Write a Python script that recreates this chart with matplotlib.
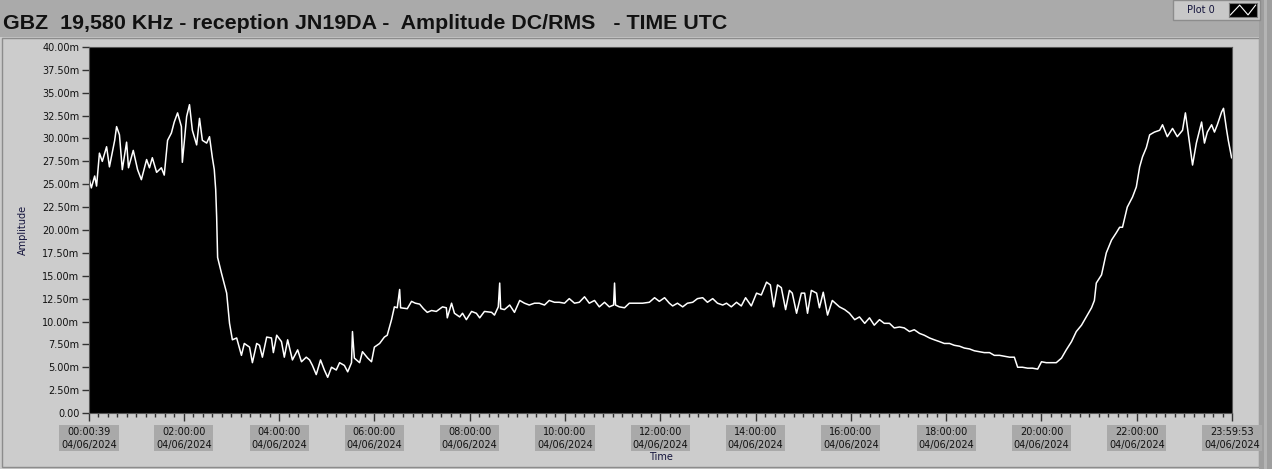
import matplotlib
matplotlib.use("Agg")
import matplotlib.pyplot as plt
from matplotlib.patches import Rectangle
from matplotlib.ticker import MultipleLocator
from matplotlib import font_manager

# ---- data (time in hours UTC, amplitude in mV) ----
hours = [
    0.01, 0.06, 0.13, 0.17, 0.23, 0.29, 0.38, 0.44, 0.50, 0.55, 0.59, 0.65, 0.71, 0.80, 0.84,
    0.94, 1.03, 1.11, 1.22, 1.28, 1.34, 1.43, 1.53, 1.59, 1.66, 1.74, 1.80, 1.87, 1.95, 1.97,
    2.06, 2.12, 2.18, 2.27, 2.33, 2.39, 2.48, 2.54, 2.60, 2.64, 2.67, 2.69, 2.71, 2.79, 2.90,
    2.96, 3.02, 3.11, 3.21, 3.27, 3.38, 3.44, 3.53, 3.59, 3.65, 3.74, 3.84, 3.88, 3.95, 4.05,
    4.11, 4.18, 4.28, 4.39, 4.47, 4.57, 4.64, 4.70, 4.78, 4.87, 4.95, 5.02, 5.10, 5.20, 5.27,
    5.37, 5.44, 5.52, 5.54, 5.58, 5.69, 5.75, 5.86, 5.94, 6.00, 6.11, 6.21, 6.27, 6.36, 6.42,
    6.48, 6.53, 6.55, 6.69, 6.78, 6.86, 6.95, 7.03, 7.11, 7.20, 7.30, 7.43, 7.51, 7.53, 7.62,
    7.68, 7.79, 7.85, 7.93, 8.04, 8.14, 8.21, 8.31, 8.46, 8.52, 8.60, 8.63, 8.65, 8.73, 8.84,
    8.94, 9.05, 9.15, 9.25, 9.36, 9.46, 9.57, 9.67, 9.78, 9.88, 9.99, 10.09, 10.20, 10.30, 10.41,
    10.51, 10.62, 10.72, 10.83, 10.93, 11.02, 11.04, 11.06, 11.14, 11.25, 11.35, 11.50, 11.63, 11.77, 11.88,
    11.98, 12.09, 12.19, 12.26, 12.36, 12.47, 12.57, 12.68, 12.78, 12.89, 12.99, 13.10, 13.20, 13.31, 13.39,
    13.49, 13.60, 13.70, 13.79, 13.91, 14.02, 14.12, 14.23, 14.31, 14.38, 14.46, 14.54, 14.63, 14.71, 14.77,
    14.86, 14.96, 15.03, 15.09, 15.17, 15.28, 15.34, 15.42, 15.51, 15.61, 15.76, 15.87, 15.97, 16.08, 16.18,
    16.29, 16.39, 16.49, 16.60, 16.70, 16.81, 16.91, 17.02, 17.12, 17.23, 17.33, 17.44, 17.54, 17.65, 17.75,
    17.86, 17.96, 18.07, 18.17, 18.28, 18.38, 18.49, 18.59, 18.70, 18.80, 18.91, 19.01, 19.12, 19.22, 19.33,
    19.43, 19.50, 19.60, 19.71, 19.81, 19.92, 20.00, 20.10, 20.21, 20.31, 20.42, 20.52, 20.63, 20.73, 20.84,
    20.94, 21.05, 21.11, 21.15, 21.26, 21.36, 21.47, 21.57, 21.64, 21.70, 21.80, 21.91, 21.99, 22.06, 22.12,
    22.20, 22.27, 22.37, 22.48, 22.54, 22.64, 22.75, 22.85, 22.96, 23.02, 23.06, 23.15, 23.17, 23.25, 23.36,
    23.42, 23.48, 23.57, 23.63, 23.69, 23.78, 23.82, 23.88, 23.92, 23.99,
]
amp_mv = [
    25.7, 24.6, 25.9, 24.8, 28.4, 27.5, 29.1, 26.9, 28.5, 29.8, 31.3, 30.4, 26.6, 29.6, 26.8,
    28.7, 26.6, 25.5, 27.7, 26.8, 27.9, 26.3, 26.8, 26.0, 29.8, 30.6, 31.8, 32.8, 31.3, 27.4,
    32.4, 33.7, 30.9, 29.3, 32.2, 29.8, 29.5, 30.2, 27.9, 26.6, 24.4, 21.4, 17.0, 15.3, 13.1,
    9.8, 8.0, 8.2, 6.3, 7.6, 7.2, 5.5, 7.6, 7.4, 6.1, 8.3, 8.2, 6.6, 8.5, 7.8,
    6.1, 8.0, 5.8, 6.9, 5.6, 6.1, 5.8, 5.2, 4.2, 5.8, 4.7, 3.9, 5.0, 4.7, 5.5,
    5.2, 4.5, 5.5, 8.9, 6.0, 5.5, 6.7, 6.0, 5.6, 7.2, 7.6, 8.3, 8.5, 10.2, 11.6,
    11.5, 13.5, 11.5, 11.4, 12.2, 12.0, 11.9, 11.4, 11.0, 11.2, 11.1, 11.6, 11.5, 10.4, 12.0,
    10.9, 10.5, 10.9, 10.2, 11.1, 10.9, 10.4, 11.1, 11.0, 10.7, 11.6, 14.2, 11.4, 11.3, 11.8,
    11.0, 12.3, 12.0, 11.8, 12.0, 12.0, 11.8, 12.3, 12.1, 12.1, 12.0, 12.5, 12.0, 12.1, 12.7,
    12.0, 12.3, 11.6, 12.1, 11.6, 11.8, 14.2, 11.8, 11.6, 11.5, 12.0, 12.0, 12.0, 12.1, 12.6,
    12.2, 12.6, 12.0, 11.7, 12.0, 11.6, 12.0, 12.1, 12.5, 12.6, 12.1, 12.5, 12.0, 11.8, 12.0,
    11.6, 12.1, 11.7, 12.6, 11.7, 13.1, 12.9, 14.3, 14.0, 11.6, 14.0, 13.7, 11.3, 13.4, 13.1,
    10.9, 13.1, 13.1, 10.9, 13.4, 13.1, 11.5, 13.2, 10.7, 12.3, 11.6, 11.3, 10.9, 10.2, 10.5,
    9.8, 10.4, 9.6, 10.2, 9.8, 9.8, 9.3, 9.4, 9.3, 8.9, 9.1, 8.7, 8.5, 8.2, 8.0,
    7.8, 7.6, 7.6, 7.4, 7.3, 7.1, 7.0, 6.8, 6.7, 6.6, 6.6, 6.3, 6.3, 6.2, 6.1,
    6.1, 5.0, 5.0, 4.9, 4.9, 4.8, 5.6, 5.5, 5.5, 5.5, 6.0, 6.9, 7.8, 8.9, 9.6,
    10.5, 11.5, 12.3, 14.2, 15.1, 17.5, 18.9, 19.7, 20.3, 20.3, 22.5, 23.6, 24.7, 26.9, 28.0,
    29.0, 30.4, 30.7, 30.9, 31.5, 30.2, 31.1, 30.2, 30.9, 32.8, 31.3, 28.0, 27.1, 29.5, 31.8,
    29.5, 30.7, 31.5, 30.7, 31.5, 32.9, 33.3, 31.1, 29.8, 27.9,
]

tick_hours = [0.011, 2, 4, 6, 8, 10, 12, 14, 16, 18, 20, 22, 23.998]
tick_times = ["00:00:39", "02:00:00", "04:00:00", "06:00:00", "08:00:00", "10:00:00",
              "12:00:00", "14:00:00", "16:00:00", "18:00:00", "20:00:00", "22:00:00", "23:59:53"]
tick_date = "04/06/2024"
y_ticks = [0, 2.5, 5, 7.5, 10, 12.5, 15, 17.5, 20, 22.5, 25, 27.5, 30, 32.5, 35, 37.5, 40]

TITLE = "GBZ  19,580 KHz - reception JN19DA -  Amplitude DC/RMS   - TIME UTC"

# ---- LabVIEW-ish colours ----
PANEL = "#cccccc"
BAND = "#aaaaaa"
LABEL_BG = "#a9a9a9"
TXT = "#14143c"

# narrower bold face for the title if available
installed = {f.name for f in font_manager.fontManager.ttflist}
title_font = "Liberation Sans Narrow" if "Liberation Sans Narrow" in installed else "Liberation Sans"

W, H = 1272, 469
fig = plt.figure(figsize=(W / 100, H / 100), dpi=100)
fig.patch.set_facecolor(PANEL)


def px_rect(x0, y0, x1, y1, **kw):
    """Rectangle in figure pixel coords (y measured from top)."""
    r = Rectangle((x0 / W, 1 - y1 / H), (x1 - x0) / W, (y1 - y0) / H,
                  transform=fig.transFigure, zorder=0, **kw)
    fig.add_artist(r)
    return r


# background pieces
px_rect(0, 0, W, 37, facecolor=BAND, edgecolor="none")
px_rect(2, 38, 1259, 467, facecolor=PANEL, edgecolor="#8c8c8c", linewidth=1)
px_rect(1259, 0, W, H, facecolor="#9e9e9e", edgecolor="none")
px_rect(1264, 0, 1267, H, facecolor="#b4b4b4", edgecolor="none")

# "Plot 0" legend box top right
px_rect(1173, 0, 1260, 20, facecolor="#c8c8c8", edgecolor="#8c8c8c", linewidth=1)
fig.text(1187 / W, 1 - 10 / H, "Plot 0", fontsize=7, color=TXT, va="center", ha="left")
leg = fig.add_axes([1229 / W, 1 - 17 / H, 28 / W, 14 / H])
leg.set_facecolor("black")
leg.plot([0.05, 0.38, 0.68, 0.95], [0.15, 0.85, 0.15, 0.85], color="white", lw=0.8)
leg.set_xlim(0, 1)
leg.set_ylim(0, 1)
leg.set_xticks([])
leg.set_yticks([])
for s in leg.spines.values():
    s.set_color("#7a7a7a")

# title, scaled so it spans the same width as the original
title = fig.text(3 / W, 1 - 23.5 / H, TITLE, fontsize=15, fontweight="bold",
                 family=[title_font, "DejaVu Sans"], color="#111111", va="center", ha="left")
fig.canvas.draw()
w = title.get_window_extent().width
title.set_fontsize(15 * 724 / w)

# ---- main graph ----
ax = fig.add_axes([89 / W, 1 - 413 / H, 1143 / W, 366 / H])
ax.set_facecolor("black")
ax.plot(hours, amp_mv, color="white", lw=1.1)

ax.set_xlim(tick_hours[0], tick_hours[-1])
ax.set_ylim(0, 40)

ax.set_yticks(y_ticks)
ax.set_yticklabels(["0.00" if v == 0 else f"{v:.2f}m" for v in y_ticks])
ax.set_xticks(tick_hours)
ax.set_xticklabels([f"{t}\n{tick_date}" for t in tick_times], linespacing=1.35)
ax.xaxis.set_minor_locator(MultipleLocator(0.2))

ax.tick_params(axis="y", direction="out", length=5, width=1, color="#333333",
               labelsize=7, labelcolor="#111111", pad=2)
ax.tick_params(axis="x", which="major", direction="out", length=6, width=1, color="#333333",
               labelsize=7, labelcolor="#111111", pad=4)
ax.tick_params(axis="x", which="minor", direction="out", length=3, width=1, color="#333333")
for lbl in ax.get_xticklabels():
    lbl.set_bbox(dict(facecolor=LABEL_BG, edgecolor="none", pad=1.2))

for s in ax.spines.values():
    s.set_color("#555555")
    s.set_linewidth(0.8)

ax.set_ylabel("Amplitude", fontsize=7, color=TXT, labelpad=10)
ax.set_xlabel("Time", fontsize=7, color=TXT, labelpad=2)

fig.savefig("out.png", dpi=100, facecolor=fig.get_facecolor())
